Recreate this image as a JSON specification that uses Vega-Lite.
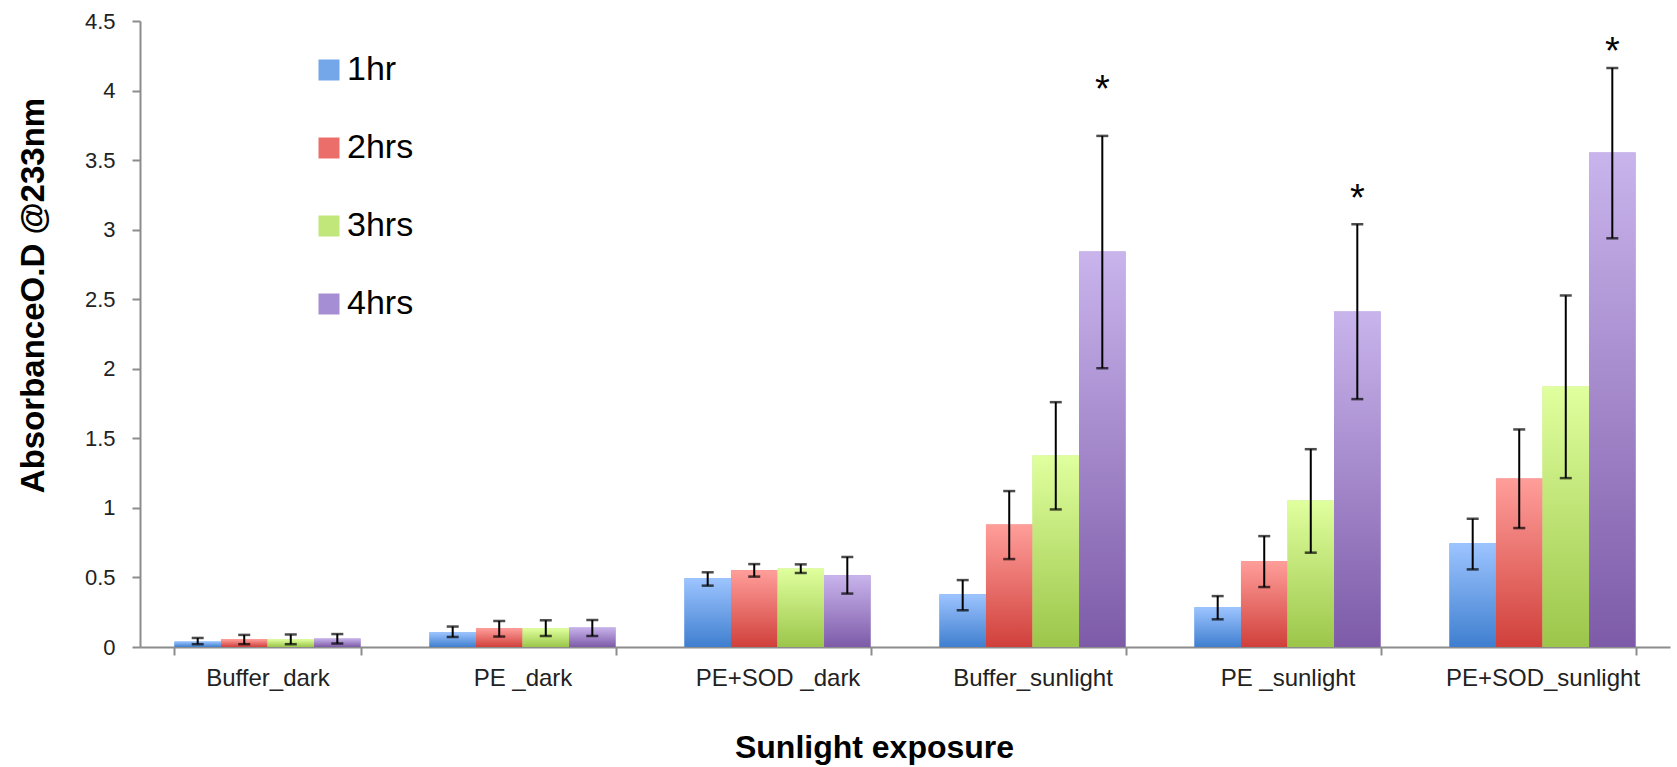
{
  "$schema": "https://vega.github.io/schema/vega-lite/v6.json",
  "width": 1530,
  "height": 626,
  "autosize": {"type": "none"},
  "padding": {"left": 140, "top": 21, "right": 7, "bottom": 120},
  "background": "white",
  "config": {"view": {"stroke": null}, "font": "Liberation Sans"},
  "datasets": {
    "bars": [
      {"group": "Buffer_dark", "time": "1hr", "value": 0.04, "lo": 0.02, "hi": 0.065},
      {"group": "Buffer_dark", "time": "2hrs", "value": 0.055, "lo": 0.02, "hi": 0.087},
      {"group": "Buffer_dark", "time": "3hrs", "value": 0.055, "lo": 0.02, "hi": 0.09},
      {"group": "Buffer_dark", "time": "4hrs", "value": 0.062, "lo": 0.025, "hi": 0.093},
      {"group": "PE _dark", "time": "1hr", "value": 0.106, "lo": 0.072, "hi": 0.147},
      {"group": "PE _dark", "time": "2hrs", "value": 0.134, "lo": 0.075, "hi": 0.187},
      {"group": "PE _dark", "time": "3hrs", "value": 0.134, "lo": 0.079, "hi": 0.192},
      {"group": "PE _dark", "time": "4hrs", "value": 0.141, "lo": 0.079, "hi": 0.194},
      {"group": "PE+SOD _dark", "time": "1hr", "value": 0.494, "lo": 0.441, "hi": 0.537},
      {"group": "PE+SOD _dark", "time": "2hrs", "value": 0.551, "lo": 0.506, "hi": 0.596},
      {"group": "PE+SOD _dark", "time": "3hrs", "value": 0.565, "lo": 0.532, "hi": 0.594},
      {"group": "PE+SOD _dark", "time": "4hrs", "value": 0.515, "lo": 0.384, "hi": 0.647},
      {"group": "Buffer_sunlight", "time": "1hr", "value": 0.379, "lo": 0.264, "hi": 0.481},
      {"group": "Buffer_sunlight", "time": "2hrs", "value": 0.881, "lo": 0.632, "hi": 1.121},
      {"group": "Buffer_sunlight", "time": "3hrs", "value": 1.377, "lo": 0.989, "hi": 1.76},
      {"group": "Buffer_sunlight", "time": "4hrs", "value": 2.843, "lo": 2.004, "hi": 3.674},
      {"group": "PE _sunlight", "time": "1hr", "value": 0.285, "lo": 0.199, "hi": 0.366},
      {"group": "PE _sunlight", "time": "2hrs", "value": 0.616, "lo": 0.431, "hi": 0.797},
      {"group": "PE _sunlight", "time": "3hrs", "value": 1.054, "lo": 0.678, "hi": 1.422},
      {"group": "PE _sunlight", "time": "4hrs", "value": 2.412, "lo": 1.782, "hi": 3.039},
      {"group": "PE+SOD_sunlight", "time": "1hr", "value": 0.745, "lo": 0.558, "hi": 0.922},
      {"group": "PE+SOD_sunlight", "time": "2hrs", "value": 1.212, "lo": 0.855, "hi": 1.564},
      {"group": "PE+SOD_sunlight", "time": "3hrs", "value": 1.873, "lo": 1.214, "hi": 2.527},
      {"group": "PE+SOD_sunlight", "time": "4hrs", "value": 3.554, "lo": 2.938, "hi": 4.162}
    ],
    "stars": [
      {"group": "Buffer_sunlight", "time": "4hrs", "pos": 4.06, "label": "*"},
      {"group": "PE _sunlight", "time": "4hrs", "pos": 3.28, "label": "*"},
      {"group": "PE+SOD_sunlight", "time": "4hrs", "pos": 4.335, "label": "*"}
    ]
  },
  "data": {"name": "bars"},
  "encoding": {
    "x": {
      "field": "group",
      "type": "nominal",
      "sort": ["Buffer_dark", "PE _dark", "PE+SOD _dark", "Buffer_sunlight", "PE _sunlight", "PE+SOD_sunlight"],
      "scale": {"paddingInner": 0.27, "paddingOuter": 0.135},
      "axis": {
        "title": "Sunlight exposure",
        "titleFont": "Liberation Sans",
        "titleFontWeight": "bold",
        "titleFontSize": 32,
        "titleColor": "#000000",
        "titleX": 734,
        "titleY": 110,
        "titleAlign": "center",
        "titleBaseline": "alphabetic",
        "labelAngle": 0,
        "labelFontSize": 24,
        "labelLimit": 0,
        "labelColor": "#222222",
        "labelPadding": 11,
        "tickSize": 8,
        "tickWidth": 2,
        "tickColor": "#8c8c8c",
        "tickBand": "extent",
        "domainColor": "#8c8c8c",
        "domainWidth": 2
      }
    },
    "xOffset": {
      "field": "time",
      "type": "nominal",
      "sort": ["1hr", "2hrs", "3hrs", "4hrs"],
      "scale": {"domain": ["1hr", "2hrs", "3hrs", "4hrs"]}
    }
  },
  "layer": [
    {
      "mark": {"type": "bar"},
      "encoding": {
        "y": {
          "field": "value",
          "type": "quantitative",
          "title": "AbsorbanceO.D @233nm",
          "scale": {"domain": [0, 4.5], "nice": false},
          "axis": {
            "values": [0, 0.5, 1, 1.5, 2, 2.5, 3, 3.5, 4, 4.5],
            "format": ".1~f",
            "grid": false,
            "titleFontWeight": "bold",
            "titleFontSize": 33,
            "titleColor": "#000000",
            "titleAngle": -90,
            "titleX": -97,
            "titleY": 274,
            "titleAlign": "center",
            "titleBaseline": "alphabetic",
            "labelFontSize": 22,
            "labelColor": "#222222",
            "labelPadding": 17,
            "tickSize": 8,
            "tickWidth": 2,
            "tickColor": "#8c8c8c",
            "domainColor": "#8c8c8c",
            "domainWidth": 2
          }
        },
        "color": {
          "field": "time",
          "type": "nominal",
          "scale": {"domain": ["1hr", "2hrs", "3hrs", "4hrs"], "range": ["#74a6ea", "#ec6e6a", "#c1e67a", "#a58ed3"]},
          "legend": {
            "orient": "none",
            "legendX": 172,
            "legendY": 32,
            "title": null,
            "padding": 0,
            "symbolType": "square",
            "symbolSize": 441,
            "symbolStrokeWidth": 0,
            "symbolOpacity": 1,
            "labelFontSize": 34,
            "labelColor": "#000000",
            "labelOffset": 1,
            "rowPadding": 44
          }
        }
      }
    },
    {
      "transform": [{"filter": {"field": "time", "equal": "1hr"}}],
      "mark": {"type": "bar", "fill": {"gradient": "linear", "x1": 0, "y1": 0, "x2": 0, "y2": 1, "stops": [{"offset": 0, "color": "#9dc4ff"}, {"offset": 1, "color": "#3f7fcf"}]}},
      "encoding": {"y": {"field": "value", "type": "quantitative", "title": "AbsorbanceO.D @233nm"}}
    },
    {
      "transform": [{"filter": {"field": "time", "equal": "2hrs"}}],
      "mark": {"type": "bar", "fill": {"gradient": "linear", "x1": 0, "y1": 0, "x2": 0, "y2": 1, "stops": [{"offset": 0, "color": "#ff9e9a"}, {"offset": 1, "color": "#d0403b"}]}},
      "encoding": {"y": {"field": "value", "type": "quantitative", "title": "AbsorbanceO.D @233nm"}}
    },
    {
      "transform": [{"filter": {"field": "time", "equal": "3hrs"}}],
      "mark": {"type": "bar", "fill": {"gradient": "linear", "x1": 0, "y1": 0, "x2": 0, "y2": 1, "stops": [{"offset": 0, "color": "#e0ff9e"}, {"offset": 1, "color": "#9bc64a"}]}},
      "encoding": {"y": {"field": "value", "type": "quantitative", "title": "AbsorbanceO.D @233nm"}}
    },
    {
      "transform": [{"filter": {"field": "time", "equal": "4hrs"}}],
      "mark": {"type": "bar", "fill": {"gradient": "linear", "x1": 0, "y1": 0, "x2": 0, "y2": 1, "stops": [{"offset": 0, "color": "#c9b4ec"}, {"offset": 1, "color": "#7d5ba8"}]}},
      "encoding": {"y": {"field": "value", "type": "quantitative", "title": "AbsorbanceO.D @233nm"}}
    },
    {
      "mark": {"type": "rule", "color": "#000000", "strokeWidth": 2},
      "encoding": {
        "y": {"field": "lo", "type": "quantitative", "title": "AbsorbanceO.D @233nm"},
        "y2": {"field": "hi"}
      }
    },
    {
      "mark": {"type": "tick", "color": "#000000", "size": 12, "thickness": 2.5, "orient": "horizontal"},
      "encoding": {"y": {"field": "hi", "type": "quantitative", "title": "AbsorbanceO.D @233nm"}}
    },
    {
      "mark": {"type": "tick", "color": "#000000", "size": 12, "thickness": 2.5, "orient": "horizontal"},
      "encoding": {"y": {"field": "lo", "type": "quantitative", "title": "AbsorbanceO.D @233nm"}}
    },
    {
      "data": {"name": "stars"},
      "mark": {"type": "text", "fontSize": 38, "baseline": "alphabetic", "dy": 20, "color": "#000000", "font": "Liberation Sans"},
      "encoding": {
        "y": {"field": "pos", "type": "quantitative", "title": "AbsorbanceO.D @233nm"},
        "text": {"field": "label"}
      }
    }
  ]
}
